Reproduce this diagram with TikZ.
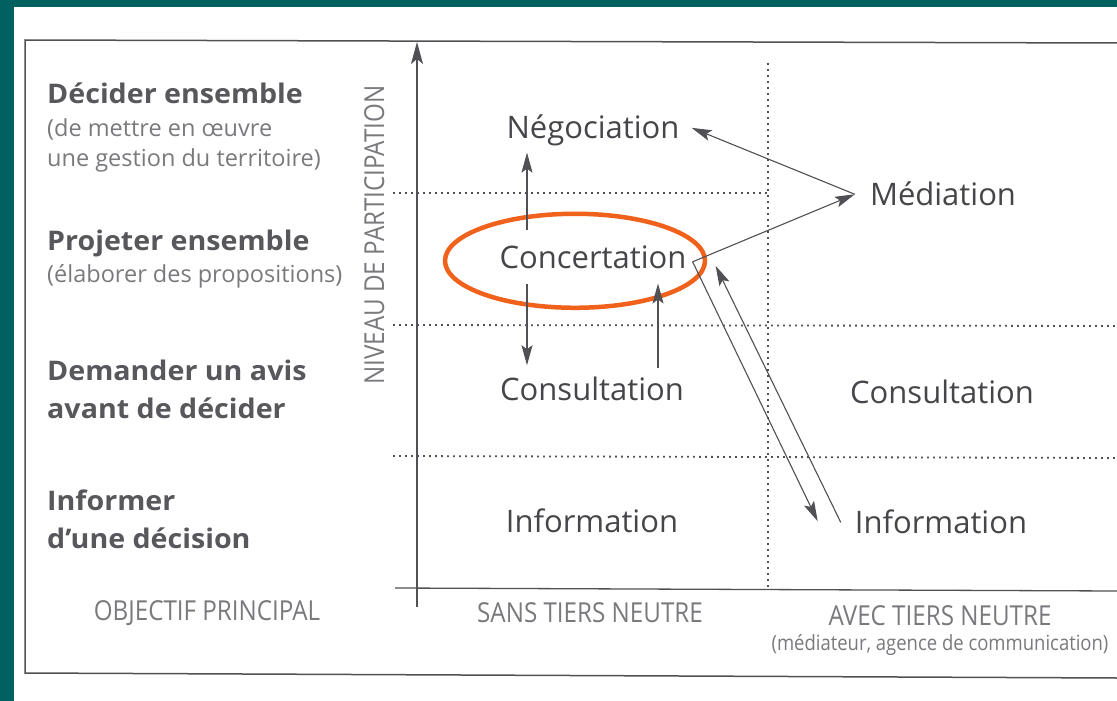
\documentclass[tikz,border=0pt]{standalone}
\usepackage{fontspec}
\setmainfont{Open Sans}
\newfontfamily\capsfont[FakeStretch=0.88]{Open Sans}
\newfontfamily\largefont[FakeStretch=1.06]{Open Sans}
\usetikzlibrary{arrows.meta,calc,positioning}
\definecolor{sarcelle}{RGB}{0,98,96}
\definecolor{encre}{RGB}{70,70,74}
\definecolor{gris}{RGB}{122,122,126}
\definecolor{trait}{RGB}{80,80,85}
\definecolor{cercle}{RGB}{240,98,28}

\begin{document}
\begin{tikzpicture}[x=1pt,y=-1pt,
	niveau/.style={font=\fontsize{31}{36}\selectfont, text=encre, inner sep=0pt, anchor=base},
	objectif/.style={font=\largefont\bfseries\fontsize{27}{30}\selectfont, text=encre!90, inner sep=0pt, anchor=base west},
	precision/.style={font=\fontsize{23.5}{28}\selectfont, text=gris, inner sep=0pt, anchor=base west},
	titre/.style={font=\capsfont\fontsize{27.5}{30}\selectfont, text=gris, inner sep=0pt, anchor=base},
	fleche/.style={draw=trait, line width=1.1pt, -{Stealth[length=20pt,width=11pt,inset=4pt]}},
	pointille/.style={draw=trait, line width=1.8pt, dash pattern=on 1.8pt off 4.2pt},
	cadre/.style={draw=trait, line width=1.5pt}]

\useasboundingbox (0,0) rectangle (1117,701);

% fond et page
\fill[sarcelle] (0,0) rectangle (1117,701);
\fill[white] (14,7) rectangle (1117,701);

% cadre
\draw[cadre] (1117,43) -- (25,40) -- (25,673) -- (1117,678);

% axes
\draw[cadre, line width=1.3pt, -{Stealth[length=22pt,width=12pt,inset=5pt]}] (417,607) -- (417,42);
\draw[cadre, line width=1.3pt] (395,588) -- (1117,591);

% lignes pointillees
\draw[pointille] (393,193) -- (768,193);
\draw[pointille] (393,325) -- (1117,326);
\draw[pointille] (393,456) -- (1117,458);
\draw[pointille] (768,63) -- (768,590);

% objectifs
\node[objectif] (decider) at (47,103) {Décider ensemble};
\node[precision] (decider-a) at (47,136) {(de mettre en œuvre};
\node[precision] (decider-b) at (47,166) {une gestion du territoire)};
\node[objectif] (projeter) at (47,250) {Projeter ensemble};
\node[precision] (projeter-a) at (47,282) {(élaborer des propositions)};
\node[objectif] (demander) at (47,380) {Demander un avis};
\node[objectif] (demander-b) at (47,418) {avant de décider};
\node[objectif] (informer) at (47,510) {Informer};
\node[objectif] (informer-b) at (47,548) {d’une décision};

% titres
\node[titre] (objectif) at (207,620) {OBJECTIF PRINCIPAL};
\node[titre, rotate=90] (participation) at (384,235) {NIVEAU DE PARTICIPATION};
\node[titre] (sans) at (590,622) {SANS TIERS NEUTRE};
\node[titre] (avec) at (940,625) {AVEC TIERS NEUTRE};
\node[titre, font=\capsfont\fontsize{21}{24}\selectfont] (avec-a) at (940,650) {(médiateur, agence de communication)};

% niveaux sans tiers neutre
\node[niveau] (nego) at (593,138) {Négociation};
\node[niveau] (conc) at (593,268) {Concertation};
\node[niveau] (cons) at (592,400) {Consultation};
\node[niveau] (info) at (592,532) {Information};

% niveaux avec tiers neutre
\node[niveau] (med) at (943,205) {Médiation};
\node[niveau] (cons-t) at (942,403) {Consultation};
\node[niveau] (info-t) at (941,533) {Information};

% cercle
\draw[cercle, line width=4.5pt] ($(conc.center)+(-18,4)$) ellipse [x radius=130, y radius=47];

% fleches
\coordinate (vx) at (527,0);
\coordinate (vy) at (658,0);
\draw[fleche, shorten <=15pt, shorten >=7pt] (conc.north -| vx) -- (nego.south -| vx);
\draw[fleche, shorten <=15pt, shorten >=11pt] (conc.south -| vx) -- (cons.north -| vx);
\draw[fleche, shorten <=8pt, shorten >=15pt] (cons.north -| vy) -- (conc.south -| vy);
\coordinate (pivot) at ($(conc.east)+(6,5)$);
\coordinate (sommet) at ($(med.west)+(-15,1)$);
\draw[fleche] (pivot) -- (sommet);
\draw[fleche] (sommet) -- ($(nego.east)+(12,-2)$);
\draw[fleche] (pivot) -- ($(info-t.west)+(-37,0)$);
\draw[fleche] ($(info-t.west)+(-14,1)$) -- ($(conc.east)+(29,9)$);

\end{tikzpicture}
\end{document}
